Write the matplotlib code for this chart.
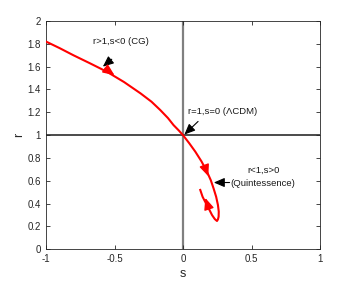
import matplotlib
matplotlib.use("Agg")
import matplotlib.pyplot as plt

s_vals = [-1.0, -0.90, -0.80, -0.68, -0.555, -0.43, -0.31, -0.23, -0.166, -0.11, -0.069, -0.03, 0.0,
          0.045, 0.09, 0.135, 0.175, 0.203, 0.223, 0.242, 0.255, 0.261, 0.26, 0.255, 0.248,
          0.232, 0.212, 0.193, 0.175, 0.158, 0.143, 0.126]
r_vals = [1.82, 1.762, 1.70, 1.63, 1.555, 1.465, 1.366, 1.293, 1.22, 1.15, 1.088, 1.04, 1.0,
          0.93, 0.855, 0.77, 0.68, 0.605, 0.534, 0.46, 0.388, 0.33, 0.286, 0.262, 0.248,
          0.265, 0.30, 0.345, 0.388, 0.425, 0.46, 0.52]

# red direction arrows: (tail, tip)
dir_arrows = [((-0.57, 1.585), (-0.50, 1.525)),
              ((0.16, 0.72), (0.185, 0.64)),
              ((0.185, 0.37), (0.163, 0.45))]

# annotations: text, text position, arrow tail, arrow tip
ann_texts = ["r>1,s<0 (CG)", "r=1,s=0 (ΛCDM)", "r<1,s>0\n(Quintessence)"]
ann_text_pos = [(-0.45, 1.82), (0.29, 1.205), (0.585, 0.635)]
ann_tail = [(-0.52, 1.665), (0.11, 1.12), (0.34, 0.585)]
ann_tip = [(-0.585, 1.60), (0.01, 1.005), (0.225, 0.585)]

plt.rcParams['font.family'] = ['Liberation Sans', 'DejaVu Sans']

fig = plt.figure(figsize=(3.54, 2.83), dpi=100)
ax = fig.add_axes([46/354, 1 - 249.3/283, 274/354, 228.3/283])

ax.axvline(0, color='#808080', lw=1.6, zorder=1)
ax.axhline(1, color='#1a1a1a', lw=1.1, zorder=1)

ax.plot(s_vals, r_vals, color='red', lw=1.5, zorder=3)

for tail, tip in dir_arrows:
    ax.annotate('', xy=tip, xytext=tail,
                arrowprops=dict(arrowstyle='-|>,head_length=0.7,head_width=0.3',
                                color='red', lw=1.0, shrinkA=0, shrinkB=0),
                zorder=4)

for t, tp, ta, ti in zip(ann_texts, ann_text_pos, ann_tail, ann_tip):
    ax.text(tp[0], tp[1], t, fontsize=6.8, ha='center', va='center', linespacing=1.5,
            color='#1a1a1a')
    ax.annotate('', xy=ti, xytext=ta,
                arrowprops=dict(arrowstyle='-|>,head_length=0.65,head_width=0.28',
                                color='black', lw=0.8, shrinkA=0, shrinkB=0))

ax.set_xlim(-1, 1)
ax.set_ylim(0, 2)
ax.set_xticks([-1, -0.5, 0, 0.5, 1])
ax.set_xticklabels(['-1', '-0.5', '0', '0.5', '1'])
ax.set_yticks([0, 0.2, 0.4, 0.6, 0.8, 1, 1.2, 1.4, 1.6, 1.8, 2])
ax.set_yticklabels(['0', '0.2', '0.4', '0.6', '0.8', '1', '1.2', '1.4', '1.6', '1.8', '2'])
ax.tick_params(direction='in', top=True, right=True, labelsize=7, length=3,
               colors='#262626', width=0.6)
for sp in ax.spines.values():
    sp.set_color('#262626')
    sp.set_linewidth(0.6)
ax.set_xlabel('s', fontsize=9, color='#262626', labelpad=3)
ax.set_ylabel('r', fontsize=9, color='#262626', labelpad=2)

fig.savefig('out.png', dpi=100)
